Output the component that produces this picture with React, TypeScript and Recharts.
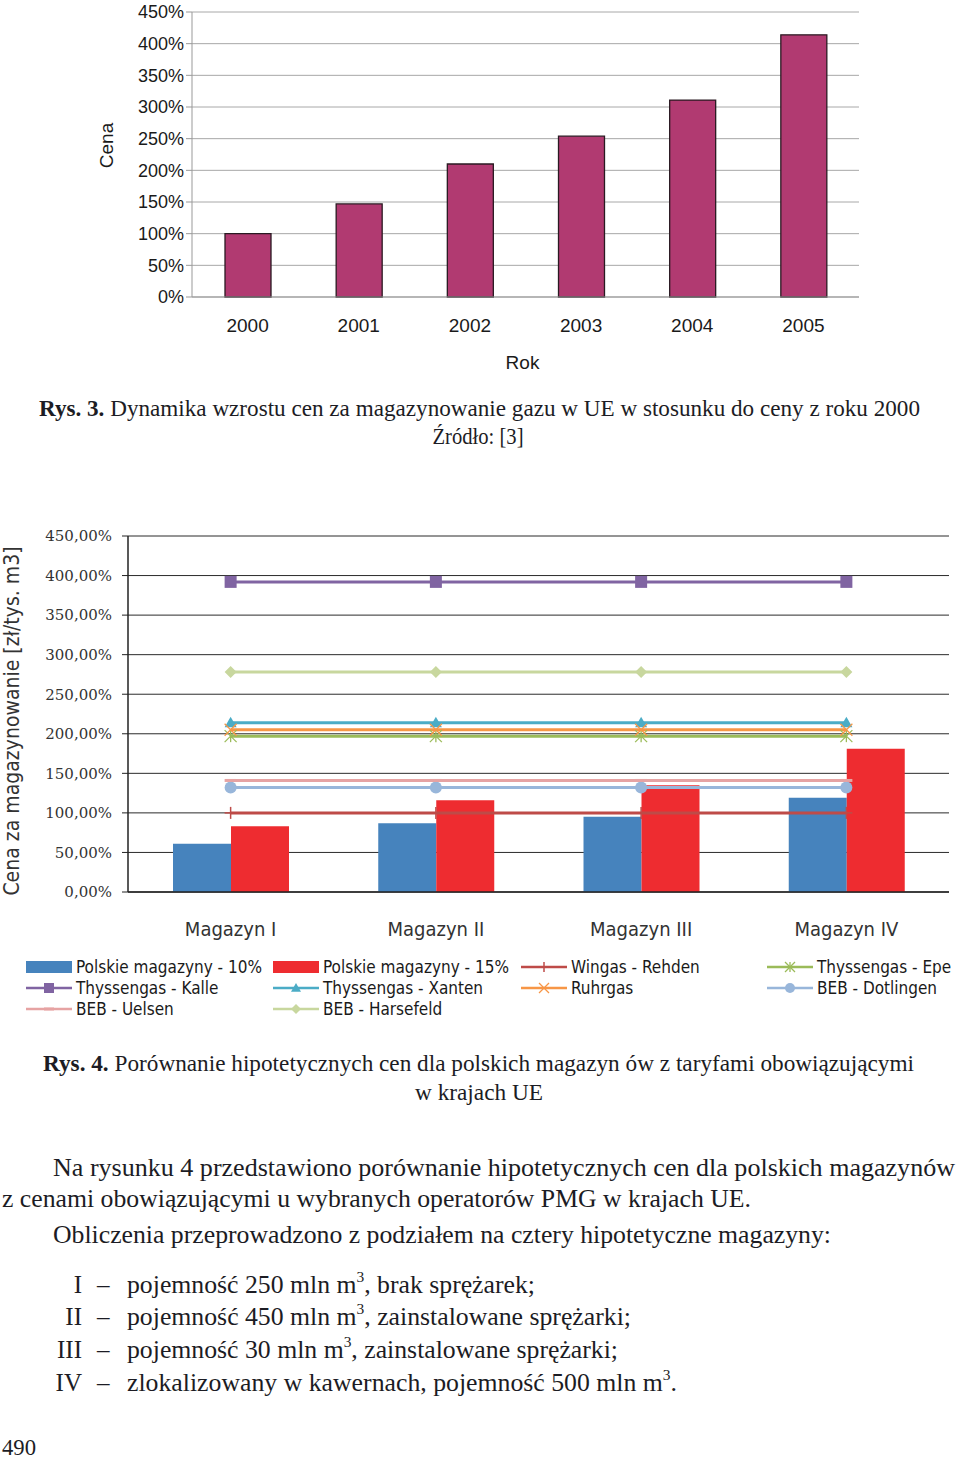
import React from 'react';
import { BarChart, Bar, ComposedChart, Line, XAxis, YAxis, CartesianGrid, Legend } from 'recharts';

// ---------- Rys. 3 data ----------
const years = ['2000', '2001', '2002', '2003', '2004', '2005'];
const priceGrowth = [100, 147, 210, 254, 311, 414];
const growthTicks = [0, 50, 100, 150, 200, 250, 300, 350, 400, 450];
const yearEdges = [0, 1, 2, 3, 4, 5, 6];

// ---------- Rys. 4 data ----------
const storages = ['Magazyn I', 'Magazyn II', 'Magazyn III', 'Magazyn IV'];
const storageEdges = [0, 1, 2, 3, 4];
const polskie10 = [61, 87, 95, 119];
const polskie15 = [83, 116, 135, 181];
const wingasRehden = [100, 100, 100, 100];
const thyssengasEpe = [197, 197, 197, 197];
const thyssengasKalle = [392, 392, 392, 392];
const thyssengasXanten = [214, 214, 214, 214];
const ruhrgas = [205, 205, 205, 205];
const bebDotlingen = [132, 132, 132, 132];
const bebUelsen = [141, 141, 141, 141];
const bebHarsefeld = [278, 278, 278, 278];
const priceTicks = [0, 50, 100, 150, 200, 250, 300, 350, 400, 450];

const barSeries = [
  { key: 'p10', name: 'Polskie magazyny - 10%', values: polskie10, color: '#4683BD' },
  { key: 'p15', name: 'Polskie magazyny - 15%', values: polskie15, color: '#EE2C30' },
];
const lineSeries = [
  { key: 'wingas', name: 'Wingas - Rehden', values: wingasRehden, color: '#BE4B48', marker: 'plus' },
  { key: 'epe', name: 'Thyssengas - Epe', values: thyssengasEpe, color: '#9BBB59', marker: 'star' },
  { key: 'kalle', name: 'Thyssengas - Kalle', values: thyssengasKalle, color: '#8064A2', marker: 'square' },
  { key: 'xanten', name: 'Thyssengas - Xanten', values: thyssengasXanten, color: '#4BACC6', marker: 'triangle' },
  { key: 'ruhr', name: 'Ruhrgas', values: ruhrgas, color: '#F79646', marker: 'x' },
  { key: 'dotl', name: 'BEB - Dotlingen', values: bebDotlingen, color: '#98B6DA', marker: 'circle' },
  { key: 'uels', name: 'BEB - Uelsen', values: bebUelsen, color: '#E6A3A3', marker: 'dash' },
  { key: 'hars', name: 'BEB - Harsefeld', values: bebHarsefeld, color: '#C8D79E', marker: 'diamond' },
];
const legendOrder = ['p10', 'p15', 'wingas', 'epe', 'kalle', 'xanten', 'ruhr', 'dotl', 'uels', 'hars'];

const growthData = years.map((y, i) => ({ year: y, value: priceGrowth[i] }));
const storageData = storages.map((s, i) => {
  const row: any = { name: s };
  barSeries.forEach((b) => (row[b.key] = b.values[i]));
  lineSeries.forEach((l) => (row[l.key] = l.values[i]));
  return row;
});

const SANS = '"Liberation Sans", Arial, sans-serif';
const NARROW = '"Liberation Sans Narrow", "DejaVu Sans Condensed", "Roboto Condensed", Roboto, sans-serif';
const SERIF = '"Liberation Serif", "Times New Roman", serif';

function Marker({ shape, cx, cy, color, s }: any) {
  if (cx == null || cy == null) return null;
  const h = s / 2;
  switch (shape) {
    case 'square':
      return <rect x={cx - h} y={cy - h} width={s} height={s} fill={color} />;
    case 'diamond':
      return <polygon points={`${cx},${cy - h} ${cx + h},${cy} ${cx},${cy + h} ${cx - h},${cy}`} fill={color} />;
    case 'triangle':
      return <polygon points={`${cx},${cy - h} ${cx + h},${cy + h * 0.75} ${cx - h},${cy + h * 0.75}`} fill={color} />;
    case 'circle':
      return <circle cx={cx} cy={cy} r={h} fill={color} />;
    case 'star':
      return (
        <g stroke={color} strokeWidth={1.3}>
          <line x1={cx - h} y1={cy - h} x2={cx + h} y2={cy + h} />
          <line x1={cx - h} y1={cy + h} x2={cx + h} y2={cy - h} />
          <line x1={cx} y1={cy - h} x2={cx} y2={cy + h} />
        </g>
      );
    case 'x':
      return (
        <g stroke={color} strokeWidth={1.3}>
          <line x1={cx - h} y1={cy - h} x2={cx + h} y2={cy + h} />
          <line x1={cx - h} y1={cy + h} x2={cx + h} y2={cy - h} />
        </g>
      );
    case 'plus':
      return (
        <g stroke={color} strokeWidth={1.5}>
          <line x1={cx} y1={cy - h} x2={cx} y2={cy + h} />
          <line x1={cx - h} y1={cy} x2={cx + h} y2={cy} />
        </g>
      );
    case 'dash':
      return <line x1={cx - h} y1={cy} x2={cx + h} y2={cy} stroke={color} strokeWidth={3} />;
    default:
      return null;
  }
}

function StorageLegend() {
  const cols = [26, 273, 521, 767];
  const rows = [15, 36, 57];
  const all: any = {};
  barSeries.forEach((b) => (all[b.key] = { ...b, type: 'bar' }));
  lineSeries.forEach((l) => (all[l.key] = { ...l, type: 'line' }));
  return (
    <div style={{ position: 'relative', width: 960, height: 70 }}>
      {legendOrder.map((k, i) => {
        const it = all[k];
        const c = i % 4;
        const r = Math.floor(i / 4);
        return (
          <div
            key={k}
            style={{
              position: 'absolute',
              left: cols[c],
              top: rows[r] - 10,
              height: 20,
              display: 'flex',
              alignItems: 'center',
              whiteSpace: 'nowrap',
            }}
          >
            <svg width={46} height={20} style={{ display: 'block' }}>
              {it.type === 'bar' ? (
                <rect x={0} y={4} width={46} height={12} fill={it.color} />
              ) : (
                <g>
                  <line x1={0} y1={10} x2={46} y2={10} stroke={it.color} strokeWidth={2.5} />
                  <Marker shape={it.marker} cx={23} cy={10} color={it.color} s={10} />
                </g>
              )}
            </svg>
            <span style={{ marginLeft: 4, fontFamily: NARROW, fontSize: 17, color: '#1a1a1a' }}>{it.name}</span>
          </div>
        );
      })}
    </div>
  );
}

function GrowthChart() {
  return (
    <BarChart width={790} height={380} data={growthData} margin={{ top: 12, right: 23, left: 0, bottom: 0 }}>
      <CartesianGrid xAxisId="cat" yAxisId="v" vertical={false} stroke="#a8a8a8" strokeWidth={1} />
      <XAxis
        xAxisId="edges"
        type="number"
        domain={[0, 6]}
        ticks={yearEdges}
        allowDataOverflow
        height={0}
        axisLine={false}
        tickSize={7}
        tickLine={{ stroke: '#999' }}
        tickFormatter={() => ''}
      />
      <XAxis
        xAxisId="cat"
        dataKey="year"
        height={83}
        tickLine={false}
        axisLine={{ stroke: '#999' }}
        tickSize={6}
        tickMargin={16}
        tick={{ fontFamily: SANS, fontSize: 19, fill: '#1a1a1a' }}
        label={(p: any) => {
          const vb = p.viewBox;
          return (
            <text x={vb.x + vb.width / 2 - 3} y={vb.y + 72} textAnchor="middle" fontFamily={SANS} fontSize={19} fill="#1a1a1a">
              Rok
            </text>
          );
        }}
      />
      <YAxis
        yAxisId="v"
        width={100}
        domain={[0, 450]}
        ticks={growthTicks}
        interval={0}
        tickSize={6}
        tickLine={{ stroke: '#999' }}
        axisLine={{ stroke: '#999' }}
        tickFormatter={(v: number) => `${v}%`}
        tick={{ fontFamily: SANS, fontSize: 18, fill: '#1a1a1a' }}
        label={(p: any) => {
          const vb = p.viewBox;
          const cx = vb.x + 14;
          const cy = vb.y + vb.height / 2 - 9;
          return (
            <text x={cx} y={cy} transform={`rotate(-90 ${cx} ${cy})`} textAnchor="middle" dominantBaseline="central" fontFamily={SANS} fontSize={19} fill="#1a1a1a">
              Cena
            </text>
          );
        }}
      />
      <Bar xAxisId="cat" yAxisId="v" dataKey="value" barSize={46} fill="#B13A71" stroke="#2a1a22" strokeWidth={1.3} isAnimationActive={false} />
    </BarChart>
  );
}

function StorageChart() {
  return (
    <ComposedChart width={960} height={510} data={storageData} margin={{ top: 16, right: 11, left: 0, bottom: 8 }} barGap={0}>
      <CartesianGrid xAxisId="cat" yAxisId="v" vertical={false} stroke="#2b2b2b" strokeWidth={1} />
      <XAxis
        xAxisId="edges"
        type="number"
        domain={[0, 4]}
        ticks={storageEdges}
        allowDataOverflow
        height={0}
        axisLine={false}
        tickSize={6}
        tickLine={{ stroke: '#333' }}
        tickFormatter={() => ''}
      />
      <XAxis
        xAxisId="cat"
        dataKey="name"
        height={60}
        tickLine={false}
        axisLine={{ stroke: '#222', strokeWidth: 1.5 }}
        tickSize={6}
        tickMargin={24}
        tick={{ fontFamily: NARROW, fontSize: 20, fill: '#333' }}
      />
      <YAxis
        yAxisId="v"
        width={128}
        domain={[0, 450]}
        ticks={priceTicks}
        interval={0}
        tickSize={6}
        tickMargin={10}
        tickLine={{ stroke: '#222' }}
        axisLine={{ stroke: '#222', strokeWidth: 1.5 }}
        tickFormatter={(v: number) => `${v.toFixed(2).replace('.', ',')}%`}
        tick={{ fontFamily: '"DejaVu Serif", serif', fontSize: 15, fill: '#333' }}
        label={(p: any) => {
          const vb = p.viewBox;
          const cx = vb.x + 12;
          const cy = vb.y + vb.height / 2 + 7;
          return (
            <text x={cx} y={cy} transform={`rotate(-90 ${cx} ${cy})`} textAnchor="middle" dominantBaseline="central" fontFamily={NARROW} fontSize={21} fill="#333">
              Cena za magazynowanie [zł/tys. m3]
            </text>
          );
        }}
      />
      <YAxis yAxisId="r" orientation="right" width={0} domain={[0, 450]} tick={false} tickLine={false} axisLine={{ stroke: '#222', strokeWidth: 1.5 }} />
      {barSeries.map((b) => (
        <Bar key={b.key} xAxisId="cat" yAxisId="v" dataKey={b.key} name={b.name} barSize={58} fill={b.color} isAnimationActive={false} />
      ))}
      {lineSeries.map((l) => (
        <Line
          key={l.key}
          xAxisId="cat"
          yAxisId="v"
          type="linear"
          dataKey={l.key}
          name={l.name}
          stroke={l.color}
          strokeWidth={3}
          activeDot={false}
          isAnimationActive={false}
          dot={(p: any) => <Marker key={`${l.key}-${p.index}`} shape={l.marker} cx={p.cx} cy={p.cy} color={l.color} s={12} />}
        />
      ))}
      <Legend verticalAlign="bottom" height={70} wrapperStyle={{ left: 0, width: 960 }} content={() => <StorageLegend />} />
    </ComposedChart>
  );
}

function PageText() {
  const base: any = { fontFamily: SERIF, fill: '#1c1c24', lengthAdjust: 'spacingAndGlyphs' };
  return (
    <svg width={960} height={1462} style={{ position: 'absolute', left: 0, top: 0 }}>
      <text {...base} x={39} y={416} fontSize={23} textLength={881}>
        <tspan fontWeight="bold">Rys. 3.</tspan> Dynamika wzrostu cen za magazynowanie gazu w UE w stosunku do ceny z roku 2000
      </text>
      <text {...base} x={478} y={444} fontSize={23} textAnchor="middle" textLength={91}>
        Źródło: [3]
      </text>
      <text {...base} x={43} y={1071} fontSize={23} textLength={871}>
        <tspan fontWeight="bold">Rys. 4.</tspan> Porównanie hipotetycznych cen dla polskich magazyn ów z taryfami obowiązującymi
      </text>
      <text {...base} x={479} y={1100} fontSize={23} textAnchor="middle" textLength={128}>
        w krajach UE
      </text>
      <text {...base} x={53} y={1176} fontSize={25} textLength={902}>
        Na rysunku 4 przedstawiono porównanie hipotetycznych cen dla polskich magazynów
      </text>
      <text {...base} x={2} y={1207} fontSize={25} textLength={749}>
        z cenami obowiązującymi u wybranych operatorów PMG w krajach UE.
      </text>
      <text {...base} x={53} y={1243} fontSize={25} textLength={778}>
        Obliczenia przeprowadzono z podziałem na cztery hipotetyczne magazyny:
      </text>
      {[
        { n: 'I', a: 'pojemność 250 mln m', b: ', brak sprężarek;', y: 1293, w: 408 },
        { n: 'II', a: 'pojemność 450 mln m', b: ', zainstalowane sprężarki;', y: 1325, w: 504 },
        { n: 'III', a: 'pojemność 30 mln m', b: ', zainstalowane sprężarki;', y: 1358, w: 491 },
        { n: 'IV', a: 'zlokalizowany w kawernach, pojemność 500 mln m', b: '.', y: 1391, w: 550 },
      ].map((r) => (
        <g key={r.n}>
          <text {...base} x={82} y={r.y} fontSize={25} textAnchor="end">
            {r.n}
          </text>
          <text {...base} x={97} y={r.y} fontSize={25}>
            –
          </text>
          <text {...base} x={127} y={r.y} fontSize={25} textLength={r.w}>
            {r.a}
            <tspan fontSize={15} dy={-11}>3</tspan>
            <tspan dy={11}>{r.b}</tspan>
          </text>
        </g>
      ))}
      <text {...base} x={2} y={1455} fontSize={24} textLength={34}>
        490
      </text>
    </svg>
  );
}

export default function App() {
  return (
    <div style={{ position: 'absolute', left: 0, top: 0, width: 960, height: 1462, background: '#fff', overflow: 'hidden' }}>
      <PageText />
      <div style={{ position: 'absolute', left: 92, top: 0 }}>
        <GrowthChart />
      </div>
      <div style={{ position: 'absolute', left: 0, top: 520 }}>
        <StorageChart />
      </div>
    </div>
  );
}
